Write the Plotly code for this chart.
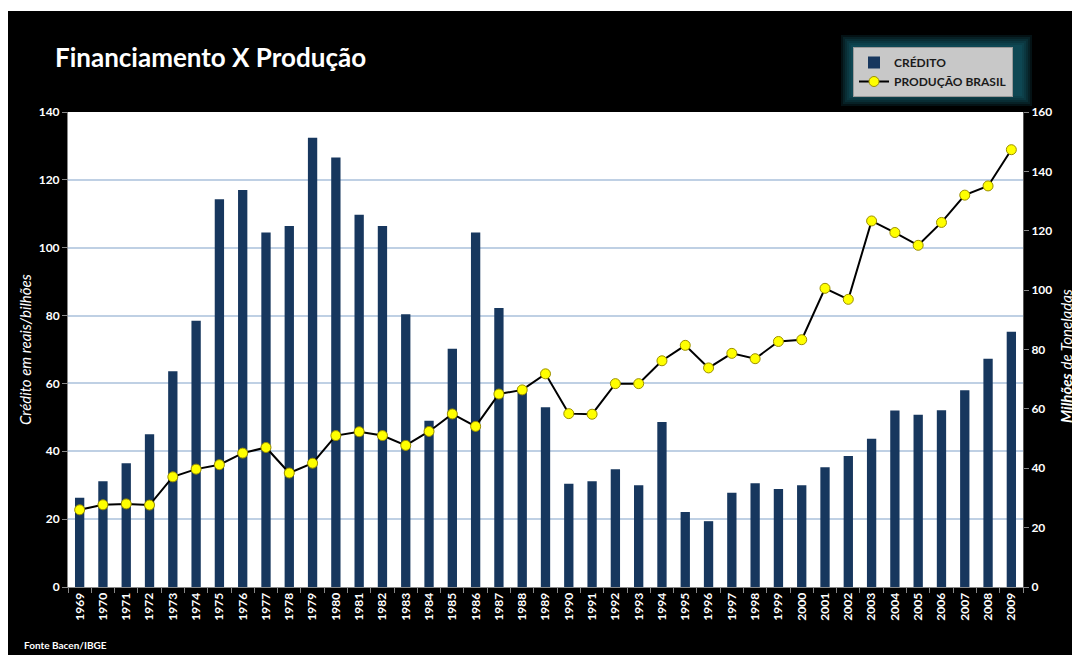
import plotly.graph_objects as go

years = [str(y) for y in range(1969, 2010)]
credito = [26.3, 31.2, 36.5, 45.0, 63.6, 78.5, 114.3, 117.0, 104.5, 106.4,
           132.4, 126.6, 109.7, 106.4, 80.4, 49.0, 70.2, 104.5, 82.2, 58.1,
           53.0, 30.4, 31.2, 34.7, 30.0, 48.6, 22.1, 19.4, 27.8, 30.6,
           28.9, 30.0, 35.3, 38.6, 43.7, 52.0, 50.8, 52.1, 58.0, 67.3, 75.2]
producao = [26.0, 27.7, 28.0, 27.6, 37.1, 39.7, 41.2, 45.1, 47.0, 38.4,
            41.7, 51.0, 52.3, 51.0, 47.7, 52.4, 58.3, 54.1, 65.0, 66.4,
            71.8, 58.4, 58.2, 68.5, 68.5, 76.2, 81.4, 73.8, 78.7, 76.9,
            82.7, 83.3, 100.6, 96.9, 123.3, 119.4, 115.1, 122.8, 132.0, 135.1, 147.3]

FONT = "Lato"
OFF = 8  # page body margin
W, H = 1072, 647
L, R, T, B = 60, 57, 104, 68
PW, PH = W - L - R, H - T - B

def px(x):  # screen x -> paper
    return (x - OFF - L) / PW

def py(y):  # screen y -> paper
    return (H - B - (y - OFF)) / PH

fig = go.Figure()
fig.add_trace(go.Bar(
    x=years, y=credito, name="CRÉDITO",
    marker=dict(color="#17375e", line=dict(width=0)),
    yaxis="y",
))
fig.add_trace(go.Scatter(
    x=years, y=producao, name="PRODUÇÃO BRASIL", yaxis="y2",
    mode="lines+markers",
    line=dict(color="black", width=2),
    marker=dict(color="#ffff00", size=10, line=dict(color="#9c8f00", width=1)),
))

shapes = [
    dict(type="rect", xref="paper", yref="paper", x0=-1, x1=2, y0=py(11), y1=2,
         fillcolor="white", line=dict(width=0), layer="below"),
]
# soft glow around legend
for g in [12, 10, 8, 6, 4, 2]:
    shapes.append(dict(type="rect", xref="paper", yref="paper",
                       x0=px(853 - g), x1=px(1020 + g), y0=py(94 + g), y1=py(47 - g),
                       fillcolor="rgba(25,110,130,0.16)", line=dict(width=0), layer="below"))

fig.update_layout(
    width=W, height=H,
    margin=dict(l=L, r=R, t=T, b=B),
    paper_bgcolor="black",
    plot_bgcolor="white",
    font=dict(family=FONT, color="white"),
    bargap=0.6,
    showlegend=True,
    legend=dict(
        x=px(853), y=py(47), xanchor="left", yanchor="top",
        bgcolor="#c8c8c8", bordercolor="#9a9a9a", borderwidth=1,
        font=dict(family=FONT, size=12, color="#1a1a1a", weight="bold"),
        tracegroupgap=0, itemwidth=30,
    ),
    xaxis=dict(
        type="category", tickangle=-90, range=[-0.5, len(years) - 0.5],
        tickfont=dict(family=FONT, size=12, color="white", weight="bold"),
        ticks="outside", tickson="boundaries", ticklen=5, tickcolor="#888888",
        showline=True, linecolor="#888888", linewidth=1,
        showgrid=False,
    ),
    yaxis=dict(
        range=[0, 140], dtick=20,
        tickfont=dict(family=FONT, size=12, color="white", weight="bold"),
        ticks="outside", ticklen=5, tickcolor="#888888",
        showline=True, linecolor="#888888", linewidth=1,
        showgrid=True, gridcolor="#bfd0e4", gridwidth=2,
        zeroline=False,
    ),
    yaxis2=dict(
        range=[0, 160], dtick=20, overlaying="y", side="right",
        tickfont=dict(family=FONT, size=12, color="white", weight="bold"),
        ticks="outside", ticklen=5, tickcolor="#888888",
        showline=True, linecolor="#555555", linewidth=1,
        showgrid=False, zeroline=False,
    ),
    shapes=shapes,
    annotations=[
        dict(text="<b>Financiamento X Produção</b>", xref="paper", yref="paper",
             x=px(53), y=py(57), xanchor="left", yanchor="middle", showarrow=False,
             font=dict(family=FONT, size=26, color="white")),
        dict(text="<i>Crédito em reais/bilhões</i>", xref="paper", yref="paper",
             x=px(25), y=py(350), xanchor="center", yanchor="middle", showarrow=False,
             textangle=-90, font=dict(family=FONT, size=15, color="white")),
        dict(text="<b><i>Milhões</i></b> <i>de Toneladas</i>", xref="paper", yref="paper",
             x=px(1066), y=py(356), xanchor="center", yanchor="middle", showarrow=False,
             textangle=-90, font=dict(family=FONT, size=15, color="white")),
        dict(text="Fonte Bacen/IBGE", xref="paper", yref="paper",
             x=px(22), y=py(645), xanchor="left", yanchor="middle", showarrow=False,
             font=dict(family=FONT, size=10, color="white", weight="bold")),
    ],
)

fig.write_html("out.html")
